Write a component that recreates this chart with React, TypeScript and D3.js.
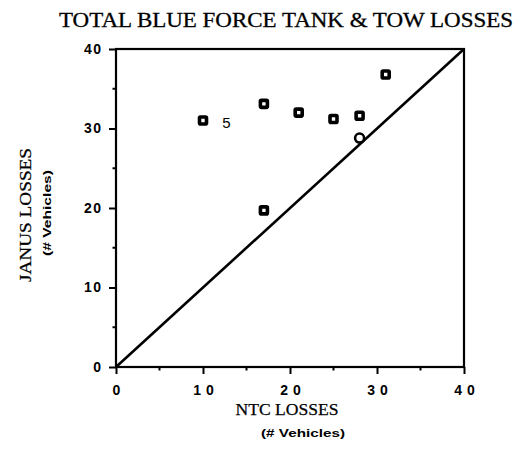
import React, { useRef, useEffect } from "react";
import * as d3 from "d3";

// data
const ntcLosses = [10, 17, 21, 25, 28, 31, 17];
const janusLosses = [31, 33.1, 32, 31.2, 31.6, 36.8, 19.7];
// the single open marker sitting on the diagonal
const openNtc = [28];
const openJanus = [28.8];
const majorTicks = [0, 10, 20, 30, 40];
const minorTicks = [5, 15, 25, 35];
const diagonal = [0, 40];
const noteText = "5";
const noteAt = [12.7, 30.8];

const W = 528;
const H = 449;

function ScatterChart() {
  const svgRef = useRef<SVGSVGElement>(null);

  useEffect(() => {
    const svg = d3.select(svgRef.current);
    svg.selectAll("*").remove();

    //scales
    const x = d3.scaleLinear().domain([0, 40]).range([116, 464]);
    const y = d3.scaleLinear().domain([0, 40]).range([367, 49]);

    const sans = "'Liberation Sans', Arial, sans-serif";
    const serif = "'Liberation Serif', 'Times New Roman', serif";

    //title
    svg
      .append("text")
      .attr("x", 286)
      .attr("y", 27)
      .attr("text-anchor", "middle")
      .attr("font-family", serif)
      .attr("font-size", 20)
      .attr("textLength", 454)
      .attr("lengthAdjust", "spacingAndGlyphs")
      .attr("fill", "#000")
      .attr("stroke", "#000")
      .attr("stroke-width", 0.3)
      .text("TOTAL BLUE FORCE TANK & TOW LOSSES");

    //frame
    svg
      .append("rect")
      .attr("x", x(0))
      .attr("y", y(40))
      .attr("width", x(40) - x(0))
      .attr("height", y(0) - y(40))
      .attr("fill", "none")
      .attr("stroke", "#000")
      .attr("stroke-width", 2.2);

    //axes
    const xAxis = d3
      .axisBottom(x)
      .tickValues(majorTicks)
      .tickSize(7)
      .tickPadding(11)
      .tickFormat(d3.format("d"));
    const gx = svg
      .append("g")
      .attr("transform", `translate(0,${y(0)})`)
      .call(xAxis);
    gx.select(".domain").remove();
    gx.selectAll("line").attr("stroke", "#000").attr("stroke-width", 2);
    gx.selectAll("text")
      .attr("font-family", sans)
      .attr("font-weight", "bold")
      .attr("font-size", 14)
      .attr("letter-spacing", 5)
      .attr("dx", 2.5)
      .attr("fill", "#000");

    svg
      .append("g")
      .selectAll("line")
      .data(minorTicks)
      .join("line")
      .attr("x1", (d) => x(d))
      .attr("x2", (d) => x(d))
      .attr("y1", y(0))
      .attr("y2", y(0) + 3.5)
      .attr("stroke", "#000")
      .attr("stroke-width", 2);

    const yAxis = d3
      .axisLeft(y)
      .tickValues(majorTicks)
      .tickSize(7)
      .tickPadding(8)
      .tickFormat(d3.format("d"));
    const gy = svg
      .append("g")
      .attr("transform", `translate(${x(0)},0)`)
      .call(yAxis);
    gy.select(".domain").remove();
    gy.selectAll("line").attr("stroke", "#000").attr("stroke-width", 2);
    gy.selectAll("text")
      .attr("font-family", sans)
      .attr("font-weight", "bold")
      .attr("font-size", 14)
      .attr("letter-spacing", 1.5)
      .attr("dx", 1.5)
      .attr("fill", "#000");

    svg
      .append("g")
      .selectAll("line")
      .data(minorTicks)
      .join("line")
      .attr("x1", x(0) - 3.5)
      .attr("x2", x(0))
      .attr("y1", (d) => y(d))
      .attr("y2", (d) => y(d))
      .attr("stroke", "#000")
      .attr("stroke-width", 2);

    //axis titles
    svg
      .append("text")
      .attr("x", 287)
      .attr("y", 415)
      .attr("text-anchor", "middle")
      .attr("font-family", serif)
      .attr("font-size", 17)
      .attr("textLength", 103)
      .attr("lengthAdjust", "spacingAndGlyphs")
      .attr("stroke", "#000")
      .attr("stroke-width", 0.25)
      .text("NTC LOSSES");
    svg
      .append("text")
      .attr("x", 303)
      .attr("y", 437)
      .attr("text-anchor", "middle")
      .attr("font-family", sans)
      .attr("font-weight", "bold")
      .attr("font-size", 11.5)
      .attr("textLength", 84)
      .attr("lengthAdjust", "spacingAndGlyphs")
      .text("(# Vehicles)");

    svg
      .append("text")
      .attr("transform", "translate(31,215) rotate(-90)")
      .attr("text-anchor", "middle")
      .attr("font-family", serif)
      .attr("font-size", 17)
      .attr("textLength", 134)
      .attr("lengthAdjust", "spacingAndGlyphs")
      .attr("stroke", "#000")
      .attr("stroke-width", 0.25)
      .text("JANUS LOSSES");
    svg
      .append("text")
      .attr("transform", "translate(51,213) rotate(-90)")
      .attr("text-anchor", "middle")
      .attr("font-family", sans)
      .attr("font-weight", "bold")
      .attr("font-size", 11.5)
      .attr("textLength", 86)
      .attr("lengthAdjust", "spacingAndGlyphs")
      .text("(# Vehicles)");

    //diagonal reference line
    const lineGen = d3
      .line<number>()
      .x((d) => x(d))
      .y((d) => y(d));
    svg
      .append("path")
      .datum(diagonal)
      .attr("d", lineGen)
      .attr("fill", "none")
      .attr("stroke", "#000")
      .attr("stroke-width", 2.6);

    //square markers
    const s = 7;
    svg
      .append("g")
      .selectAll("rect")
      .data(ntcLosses)
      .join("rect")
      .attr("x", (d) => x(d) - s / 2)
      .attr("y", (d, i) => y(janusLosses[i]) - s / 2)
      .attr("width", s)
      .attr("height", s)
      .attr("rx", 1)
      .attr("fill", "#fff")
      .attr("stroke", "#000")
      .attr("stroke-width", 3.6);

    //open marker on the line
    svg
      .append("g")
      .selectAll("circle")
      .data(openNtc)
      .join("circle")
      .attr("cx", (d) => x(d))
      .attr("cy", (d, i) => y(openJanus[i]))
      .attr("r", 4.5)
      .attr("fill", "#fff")
      .attr("stroke", "#000")
      .attr("stroke-width", 2.6);

    //stray label near the first point
    svg
      .append("text")
      .attr("x", x(noteAt[0]))
      .attr("y", y(noteAt[1]) + 6)
      .attr("text-anchor", "middle")
      .attr("font-family", sans)
      .attr("font-size", 15)
      .text(noteText);
  }, []);

  return (
    <svg
      ref={svgRef}
      width={W}
      height={H}
      style={{ position: "absolute", left: 0, top: 0, background: "#fff" }}
    ></svg>
  );
}

export default function App() {
  return <ScatterChart />;
}
